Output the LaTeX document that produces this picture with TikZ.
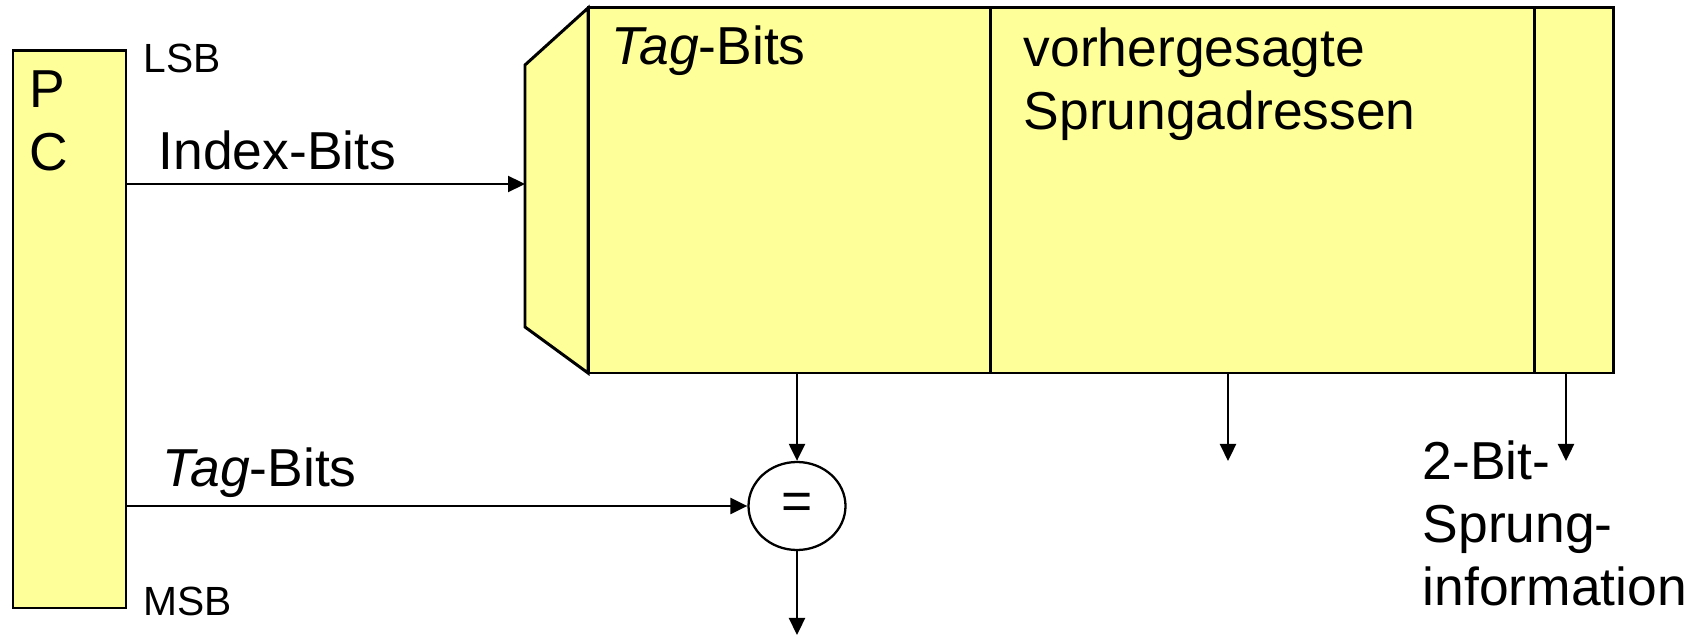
\documentclass[tikz,border=0pt]{standalone}
\usepackage{fontspec}
\setmainfont{Liberation Sans}
\usetikzlibrary{arrows.meta,shapes.geometric}
\definecolor{cellyellow}{HTML}{FFFF99}
\tikzset{
  box/.style={draw, line width=0.85pt, fill=cellyellow, inner sep=0pt, outer sep=0pt},
  conn/.style={line width=0.65pt, -{Triangle[length=0.17cm,width=0.16cm]}},
  lbl/.style={inner sep=0pt, anchor=base west, font=\fontsize{15.2}{17.9}\selectfont},
  smalllbl/.style={lbl, font=\fontsize{11.6}{14}\selectfont},
}

\begin{document}
\begin{tikzpicture}
    \useasboundingbox (0,0) rectangle (17,6.35);

    % Program counter
    \node[box, minimum width=1.13cm, minimum height=5.57cm] (pc) at (0.695,3.055) {};
    \node[lbl, anchor=north west, align=left] (pcname) at (0.29,5.65) {P\\C};
    \node[smalllbl] (lsb) at (1.43,5.62) {LSB};
    \node[smalllbl] (msb) at (1.43,0.20) {MSB};

    % Branch target buffer
    \draw[box] (5.25,5.70) -- (5.88,6.27) -- (5.88,2.62) -- (5.25,3.08) -- cycle;
    \node[box, anchor=south west, minimum width=4.02cm, minimum height=3.65cm] (tagcol) at (5.88,2.62) {};
    \node[box, anchor=south west, minimum width=5.44cm, minimum height=3.65cm] (adrcol) at (9.90,2.62) {};
    \node[box, anchor=south west, minimum width=0.79cm, minimum height=3.65cm] (bitcol) at (15.34,2.62) {};
    \node[lbl] (taghead) at (6.11,5.70) {\textit{Tag}-Bits};
    \node[lbl, anchor=north west, align=left] (adrhead) at (10.23,6.08) {vorhergesagte\\Sprungadressen};

    % Index into the buffer
    \coordinate (idx) at (5.25,4.51);
    \draw[conn] (pc.east |- idx) -- (idx);
    \node[lbl] (idxlbl) at (1.58,4.65) {Index-Bits};

    % Tag comparison
    \node[draw, ellipse, line width=0.65pt, minimum width=0.97cm, minimum height=0.88cm, inner sep=0pt,
          font=\fontsize{15.2}{17.9}\selectfont] (eq) at (7.97,1.29) {=};
    \node[lbl] (taglbl) at (1.62,1.48) {\textit{Tag}-Bits};
    \draw[conn] (pc.east |- eq) -- (eq);
    \draw[conn] (eq |- tagcol.south) -- (eq);
    \coordinate (hit) at (7.97,0);
    \draw[conn] (eq) -- (hit);

    % Outputs
    \coordinate (adrout) at (12.28,1.74);
    \draw[conn] (adrout |- adrcol.south) -- (adrout);
    \coordinate (bitout) at (15.66,1.74);
    \draw[conn] (bitout |- bitcol.south) -- (bitout);
    \node[lbl, anchor=north west, align=left] (bitinfo) at (14.22,1.95) {2-Bit-\\Sprung-\\information};
\end{tikzpicture}
\end{document}
